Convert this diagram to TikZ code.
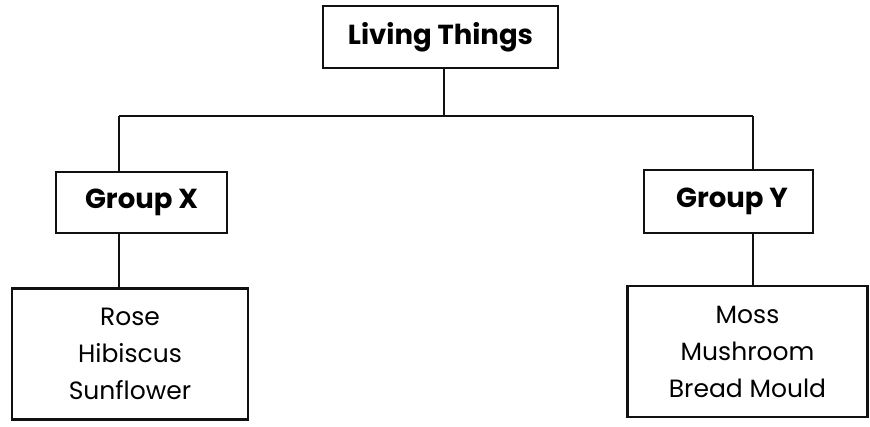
\documentclass[tikz,border=0pt]{standalone}
\usepackage{fontspec}
\setmainfont{Poppins}
\usepackage{xcolor}
\usepackage{tikz}
\definecolor{ink}{HTML}{111111}

\tikzset{
  box/.style={draw=ink, line width=2.2pt, fill=white, inner sep=0pt, align=center},
  link/.style={draw=ink, line width=2.2pt},
  head/.style={font=\bfseries\fontsize{27.5}{32}\selectfont},
  items/.style={font=\fontsize{25}{37}\selectfont}
}

\begin{document}
\begin{tikzpicture}[x=1pt,y=-1pt]
      \useasboundingbox (0,0) rectangle (870,426);
      % top box
      \node[box, head, minimum width=235pt, minimum height=62pt] (living) at (440.5,37) {Living Things};
      % the two groups
      \node[box, head, minimum width=171pt, minimum height=61pt] (groupx) at (141.5,202.5) {Group X};
      \node[box, head, minimum width=169pt, minimum height=63pt] (groupy) at (728.5,201.5) {\hspace*{7pt}Group Y};
      % members
      \node[box, items, minimum width=236pt, minimum height=131pt] (leafx) at (130,354) {Rose\\Hibiscus\\Sunflower};
      \node[box, items, minimum width=240pt, minimum height=131pt] (leafy) at (747.5,351.5) {Moss\\Mushroom\\Bread Mould};
      % branch points
      \coordinate (split) at (444,116);
      \coordinate (xjoin) at (119,116);
      \coordinate (yjoin) at (753,116);
      \draw[link] (living.south -| split) -- (split);
      \draw[link] (xjoin) -- (yjoin);
      \draw[link] (xjoin) -- (xjoin |- groupx.north);
      \draw[link] (yjoin) -- (yjoin |- groupy.north);
      \draw[link] (groupx.south -| xjoin) -- (xjoin |- leafx.north);
      \draw[link] (groupy.south -| yjoin) -- (yjoin |- leafy.north);
    \end{tikzpicture}
\end{document}
